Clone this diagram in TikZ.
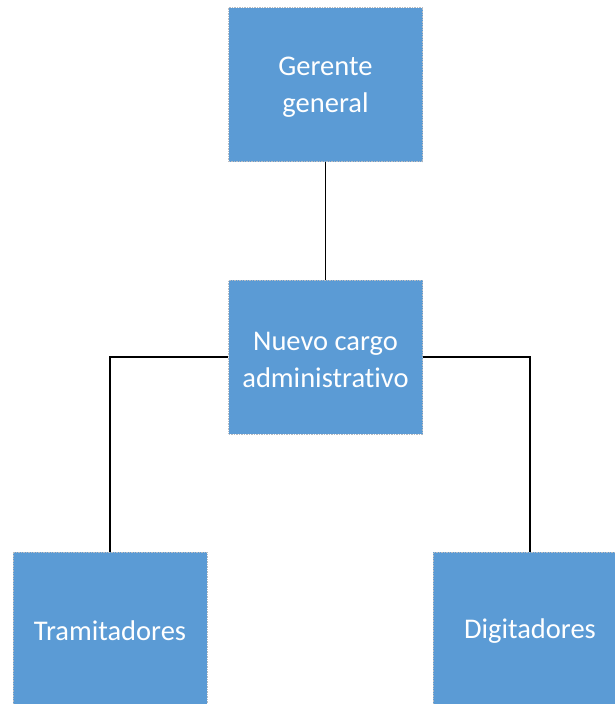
\documentclass[tikz,border=0pt]{standalone}
\usepackage{fontspec}
\setmainfont{Carlito}[Ligatures=NoCommon]
\definecolor{boxblue}{HTML}{5B9BD5}
\definecolor{boxedge}{HTML}{B8BCC2}
\begin{document}
\begin{tikzpicture}[x=1pt,y=-1pt,
  orgbox/.style={rectangle, fill=boxblue, draw=boxedge, line width=0.5pt, dash pattern=on 1.5pt off 1pt,
    minimum width=194pt, minimum height=154pt, inner sep=0pt},
  orgtext/.style={align=center, text=white, inner sep=0pt,
    font=\fontsize{28.5}{37}\selectfont},
  link/.style={draw=black, line width=1.3pt}]
\useasboundingbox (0,0) rectangle (615,704);
\clip (0,0) rectangle (615,704);
\node[orgbox] (gg) at (325.5,84.5) {};
\node[orgtext] (ggt) at (325.5,87.5) {Gerente\\general};
\node[orgbox] (nc) at (325.5,357) {};
\node[orgtext] (nct) at (325.5,360) {Nuevo cargo\\administrat\kern0pt ivo};
\node[orgbox] (tr) at (110,629) {};
\node[orgtext] (trt) at (110,631) {Tramitadores};
\node[orgbox] (dg) at (530,629) {};
\node[orgtext] (dgt) at (530,631) {Digitadores};
\draw[link] (gg.south) -- (nc.north);
\draw[link] (nc.west) -| (tr.north);
\draw[link] (nc.east) -| (dg.north);
\end{tikzpicture}
\end{document}
